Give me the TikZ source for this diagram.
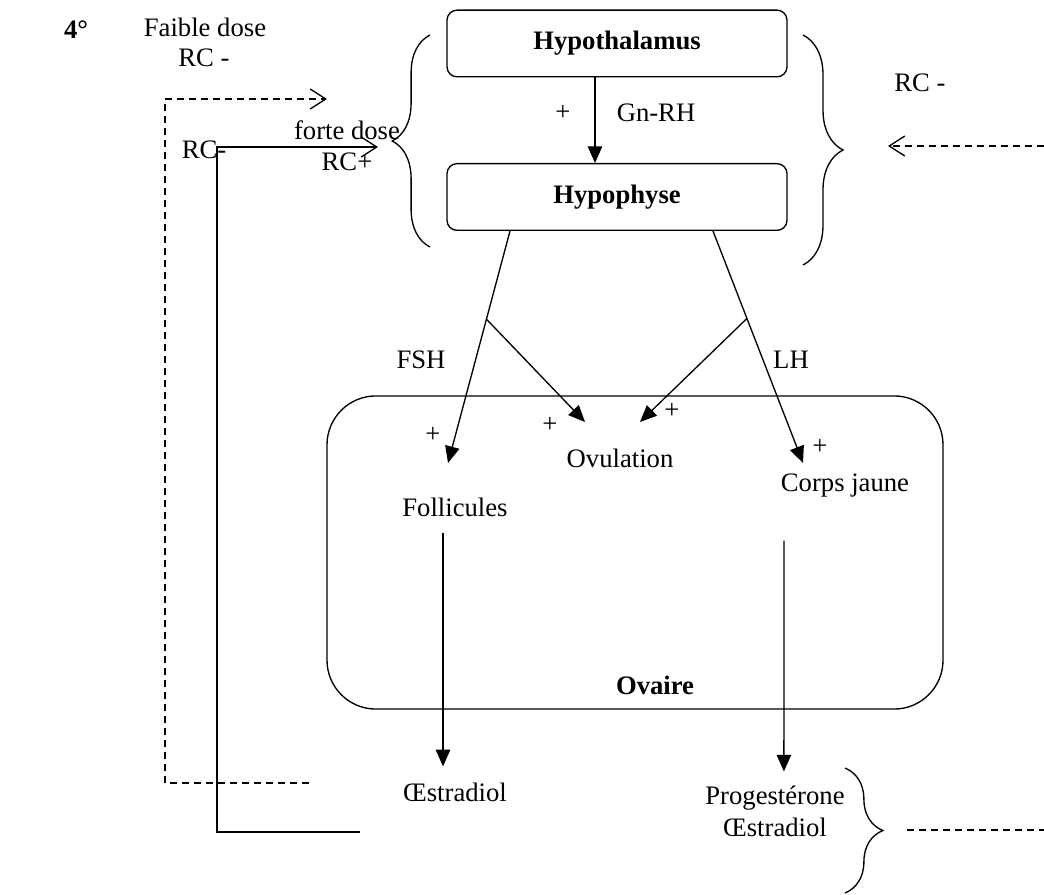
\documentclass[12pt,tikz,border=0pt]{standalone}
\usepackage{fontspec}
\setmainfont{Liberation Serif}
\usetikzlibrary{arrows.meta,decorations.pathreplacing,calc}

\tikzset{
  boite/.style={draw, rounded corners=4.5pt, minimum width=153pt, minimum height=30pt, font=\bfseries},
  fleche/.style={-{Triangle[length=7.5pt,width=6.5pt]}},
  retro/.style={-{Straight Barb[length=7pt,width=9pt]}},
  tirets/.style={dash pattern=on 3.2pt off 2.2pt},
  accolade/.style={decorate, decoration={brace, amplitude=#1}}
}

\begin{document}
\begin{tikzpicture}[x=0.45pt, y=-0.45pt, line width=0.6pt]
    \useasboundingbox (0,0) rectangle (1044,895);

    % numero de la question
    \node[font=\bfseries] (num) at (76,30) {4°};

    % hypothalamus et hypophyse
    \node[boite] (hypothal) at (617,43.5) {Hypothalamus};
    \node[boite] (hypoph) at (617,197) {Hypophyse};
    \draw[fleche] ([xshift=-9.9pt]hypothal.south) -- ([xshift=-9.9pt]hypoph.north);
    \node (plusgn) at (563,113) {+};
    \node (gnrh) at (656,113) {Gn-RH};
    \draw[accolade=17pt] (430,247) -- (430,35);
    \draw[accolade=18pt] (803,35) -- (803,265);

    % ovaire
    \node[draw, rounded corners=22pt, minimum width=277.2pt, minimum height=140.9pt] (ovaire) at (635,552.5) {};
    \node[font=\bfseries] (ovairetxt) at (655,685) {Ovaire};
    \node (ovul) at (620,458) {Ovulation};
    \node (foll) at (455,507) {Follicules};
    \node (corps) at (845,486) {Corps jaune};

    % FSH et LH
    \coordinate (fshdep) at ([xshift=-48.15pt]hypoph.south);
    \coordinate (lhdep) at ([xshift=43.2pt]hypoph.south);
    \coordinate (fshfin) at (448,463);
    \coordinate (lhfin) at (803,463);
    \coordinate (ovg) at (585,422);
    \coordinate (ovd) at (640,422);
    \draw[fleche] (fshdep) -- (fshfin);
    \draw[fleche] (lhdep) -- (lhfin);
    \draw[fleche] ($(fshdep)!0.38!(fshfin)$) -- (ovg);
    \draw[fleche] ($(lhdep)!0.377!(lhfin)$) -- (ovd);
    \node (fsh) at (421,360) {FSH};
    \node (lh) at (791,360) {LH};
    \node (plusfoll) at (433,435) {+};
    \node (plusovg) at (550,425) {+};
    \node (plusovd) at (672,411) {+};
    \node (pluscorps) at (820,447) {+};

    % hormones ovariennes
    \node (oestr) at (455,792) {Œstradiol};
    \node[align=center] (prog) at (775,811) {Progestérone\\Œstradiol};
    \draw[fleche] ([xshift=-5.4pt, yshift=-3pt]foll.south) -- ([xshift=-5.4pt, yshift=3pt]oestr.north);
    \draw[fleche] ([xshift=-27.45pt, yshift=-15pt]corps.south) -- ([xshift=4pt, yshift=2pt]prog.north);
    \draw[accolade=17pt] (845,768) -- (845,893);

    % retrocontroles
    \coordinate (faibledep) at (309,783);
    \coordinate (faiblefin) at (327,99);
    \coordinate (fortedep) at (360,832);
    \coordinate (fortefin) at (378,147);
    \coordinate (droitedep) at (1044,146);
    \coordinate (droitefin) at (888,146);
    \coordinate (basdep) at (907,830);
    \coordinate (basfin) at (1044,830);
    \draw[retro, tirets] (faibledep) -- ++(-144,0) |- (faiblefin);
    \draw[retro] (fortedep) -- ++(-143,0) |- (fortefin);
    \draw[retro, tirets] (droitedep) -- (droitefin);
    \draw[tirets] (basdep) -- (basfin);
    \node (faible) at (205,27) {Faible dose};
    \node (rcfaible) at (204,58) {RC -};
    \node (forte) at (347,130) {forte dose};
    \node (rcforte) at (347,162) {RC+};
    \node (rcgauche) at (204,150) {RC-};
    \node (rcdroite) at (920,83) {RC -};
\end{tikzpicture}
\end{document}
